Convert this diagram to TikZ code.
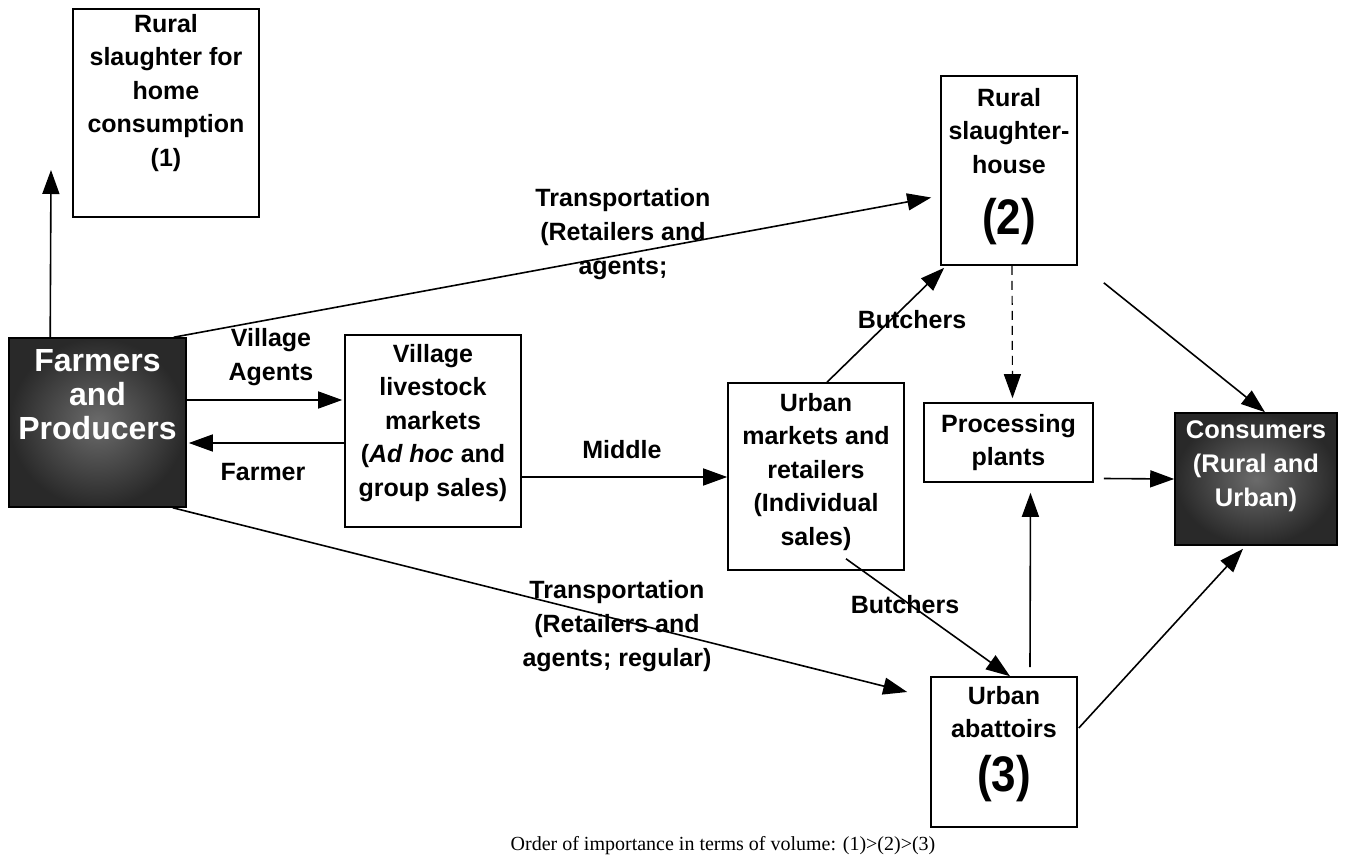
\documentclass[tikz,border=0pt]{standalone}
\usepackage{fontspec}
\setmainfont{Liberation Sans}
\newfontfamily\capfont{Liberation Serif}
\usetikzlibrary{arrows.meta,positioning,calc}

\tikzset{
  box/.style={draw,line width=1.6pt,inner sep=0pt},
  darkbox/.style={box,inner color=black!58,outer color=black!84},
  txt/.style={align=center,inner sep=0pt,font=\bfseries\fontsize{25}{33.5}\selectfont},
  dtxt/.style={txt,text=white},
  lbl/.style={align=center,font=\bfseries\fontsize{25}{34}\selectfont}
}
\newcommand{\bignum}[1]{{\fontsize{50}{54}\selectfont\scalebox{0.88}[1]{#1}}}

\begin{document}
\begin{tikzpicture}[x=1pt,y=-1pt,->,>={Triangle[length=24pt,width=17pt]},line width=1.6pt]
\useasboundingbox (0,0) rectangle (1345,864);

% boxes
\node[box,minimum width=186pt,minimum height=208pt] (home) at (166,113) {};
\node[txt,below=5pt of home.north] (hometxt) {Rural\\slaughter for\\home\\consumption\\(1)};

\node[box,minimum width=136pt,minimum height=189pt] (rsh) at (1009,170.5) {};
\node[txt,below=12pt of rsh.north] (rshtxt) {Rural\\slaughter-\\house\\[24pt]\bignum{(2)}};

\node[darkbox,minimum width=177pt,minimum height=169pt] (farm) at (97.5,422.5) {};
\node[dtxt,font=\bfseries\fontsize{32}{34}\selectfont,below=11pt of farm.north] (farmtxt) {Farmers\\and\\Producers};

\node[box,minimum width=176pt,minimum height=192pt] (vlm) at (433,431) {};
\node[txt,below=9pt of vlm.north] (vlmtxt) {Village\\livestock\\markets\\(\textit{Ad hoc} and\\group sales)};

\node[box,minimum width=176pt,minimum height=187pt] (urb) at (816,476.5) {};
\node[txt,below=10pt of urb.north] (urbtxt) {Urban\\markets and\\retailers\\(Individual\\sales)};

\node[box,minimum width=169pt,minimum height=79pt] (proc) at (1008.5,442.5) {};
\node[txt,below=11pt of proc.north] (proctxt) {Processing\\plants};

\node[darkbox,minimum width=162pt,minimum height=132pt] (cons) at (1256,479) {};
\node[dtxt,font=\bfseries\fontsize{25.5}{34}\selectfont,below=8pt of cons.north] (constxt) {Consumers\\(Rural and\\Urban)};

\node[box,minimum width=146pt,minimum height=150pt] (abat) at (1004,752) {};
\node[txt,below=9pt of abat.north] (abattxt) {Urban\\abattoirs\\[16pt]\bignum{(3)}};

% labels
\node[lbl] (agents) at (271,357) {Village\\Agents};
\node[lbl] (farmer) at (263,472) {Farmer};
\node[lbl] (middle) at (622,450) {Middle};
\node[lbl] (trup) at (623,234) {Transportation\\(Retailers and\\agents;};
\node[lbl] (trlow) at (617,626) {Transportation\\(Retailers and\\agents; regular)};
\node[lbl] (butchup) at (912,320) {Butchers};
\node[lbl] (butchlow) at (905,605) {Butchers};
\node[font=\capfont\fontsize{20}{24}\selectfont] (note) at (723,846) {Order of importance in terms of volume: (1)>(2)>(3)};

% arrows
\coordinate (homeup) at (51,170);
\draw ($(farm.north west)+(42,0)$) -- (homeup);
\draw ($(farm.north east)+(-13,0)$) -- ($(rsh.west)+(-9,27)$);
\draw ($(farm.east)+(0,-22.5)$) -- ($(vlm.west)+(-2,-31)$);
\draw ($(vlm.west)+(0,12)$) -- ($(farm.east)+(2,20.5)$);
\draw ($(vlm.east)+(0,46)$) -- ($(urb.west)+(0,0.5)$);
\draw ($(farm.south east)+(-14,0)$) -- ($(abat.west)+(-23,-60)$);
\draw ($(urb.north)+(11,0)$) -- ($(rsh.south west)+(4,2)$);
\draw ($(urb.south)+(30,-12)$) -- ($(abat.north)+(6,0)$);
\draw[line width=1.2pt,dash pattern=on 9pt off 6pt] ($(rsh.south)+(3,0)$) -- ($(proc.north)+(4,-4)$);
\draw ($(rsh.south east)+(26,17)$) -- ($(cons.north)+(9,0)$);
\draw ($(proc.east)+(10,36)$) -- (cons.west);
\draw ($(abat.north)+(26,-9)$) -- ($(proc.south)+(22,10)$);
\draw ($(abat.east)+(1,-24)$) -- ($(cons.south)+(-13,3)$);
\end{tikzpicture}
\end{document}
